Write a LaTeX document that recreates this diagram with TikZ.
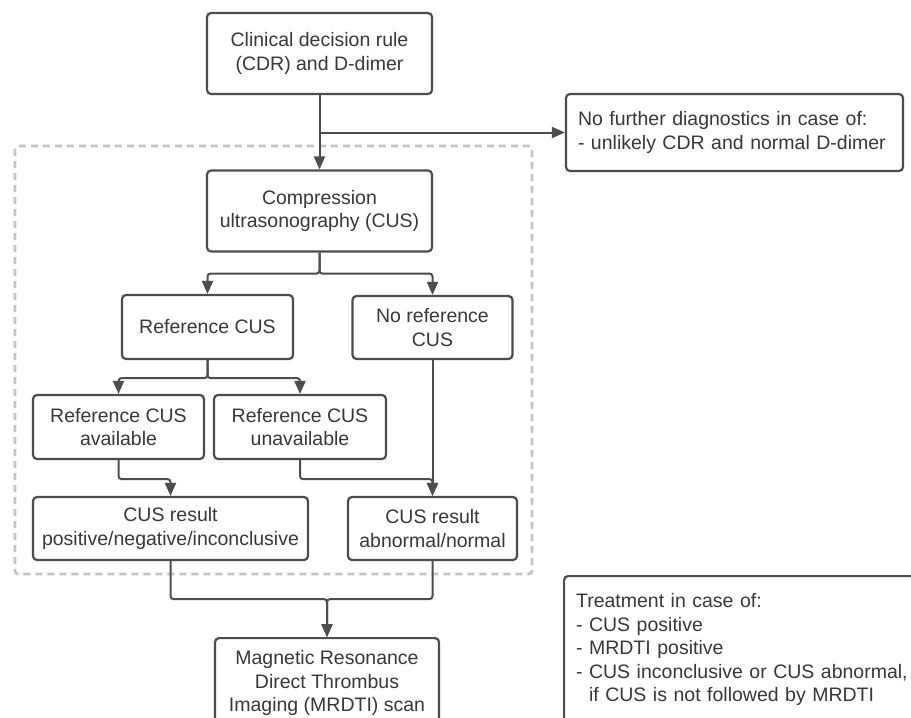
\documentclass[tikz,border=0pt]{standalone}
\usepackage{fontspec}
\setmainfont{Liberation Sans}
\usetikzlibrary{arrows.meta}
\definecolor{boxline}{HTML}{4D4D4D}
\definecolor{txt}{HTML}{383838}
\definecolor{dashc}{HTML}{C4C4C4}
\begin{document}
\begin{tikzpicture}[x=1pt,y=-1pt,
  every node/.style={font=\fontsize{19.5}{23.5}\selectfont, text=txt},
  fbox/.style={draw=boxline, line width=2.2pt, rounded corners=4pt, align=center, inner sep=0pt},
  lbox/.style={draw=boxline, line width=2.2pt, rounded corners=4pt, align=left, inner xsep=12pt, inner ysep=0pt},
  conn/.style={draw=boxline, line width=2pt, rounded corners=3pt},
  arr/.style={conn, -{Triangle[length=13pt,width=11pt]}},
  dbox/.style={draw=dashc, line width=2.6pt, dash pattern=on 7pt off 5pt, rounded corners=3pt}
]
\useasboundingbox (0,0) rectangle (911,718);
\clip (0,0) rectangle (911,718);
\fill[white] (0,0) rectangle (911,718);

% dashed frame
\draw[dbox] (15,146) rectangle (532,574);

% nodes
\node[fbox, minimum width=225pt, minimum height=81pt] (cdr) at (319.5,53.5) {Clinical decision rule\\(CDR) and D-dimer};
\node[lbox, text width=313pt, minimum height=77pt] (nofurther) at (734.5,132.5) {No further diagnostics in case of:\\- unlikely CDR and normal D-dimer};
\node[fbox, minimum width=225pt, minimum height=81pt] (cus) at (319.5,211) {Compression\\ultrasonography (CUS)};
\node[fbox, minimum width=171pt, minimum height=64pt] (refcus) at (207.5,327) {Reference CUS};
\node[fbox, minimum width=160pt, minimum height=63pt] (noref) at (432.5,327.5) {No reference\\CUS};
\node[fbox, minimum width=171pt, minimum height=64pt] (avail) at (118.5,427) {Reference CUS\\available};
\node[fbox, minimum width=172pt, minimum height=64pt] (unavail) at (300,427) {Reference CUS\\unavailable};
\node[fbox, minimum width=275pt, minimum height=63pt] (resL) at (170.5,528.5) {CUS result\\positive/negative/inconclusive};
\node[fbox, minimum width=169pt, minimum height=63pt] (resR) at (432.5,528.5) {CUS result\\abnormal/normal};
\node[fbox, minimum width=224pt, minimum height=90pt, anchor=north] (mrdti) at (327,637) {Magnetic Resonance\\Direct Thrombus\\Imaging (MRDTI) scan};
\node[lbox, text width=338pt, minimum height=147pt, anchor=north west] (treat) at (563,575) {Treatment in case of:\\- CUS positive\\- MRDTI positive\\- CUS inconclusive or CUS abnormal,\\\phantom{- }if CUS is not followed by MRDTI};

% connectors
\coordinate (j1) at (cdr.south |- nofurther.west);
\draw[arr] (cdr.south) -- (cus.north);
\draw[arr] (j1) -- (nofurther.west);

\draw[arr] (cus.south) -- ++(0,21) -| (refcus.north);
\draw[arr] (cus.south) -- ++(0,21) -| (noref.north);

\draw[arr] (refcus.south) -- ++(0,18) -| (avail.north);
\draw[arr] (refcus.south) -- ++(0,18) -| (unavail.north);

\draw[arr] (avail.south) -- ++(0,19) -| (resL.north);
\draw[arr] (unavail.south) -- ++(0,19) -| (resR.north);
\draw[arr] (noref.south) -- (resR.north);

\draw[arr] (resL.south) -- ++(0,38) -| (mrdti.north);
\draw[arr] (resR.south) -- ++(0,38) -| (mrdti.north);
\end{tikzpicture}
\end{document}
